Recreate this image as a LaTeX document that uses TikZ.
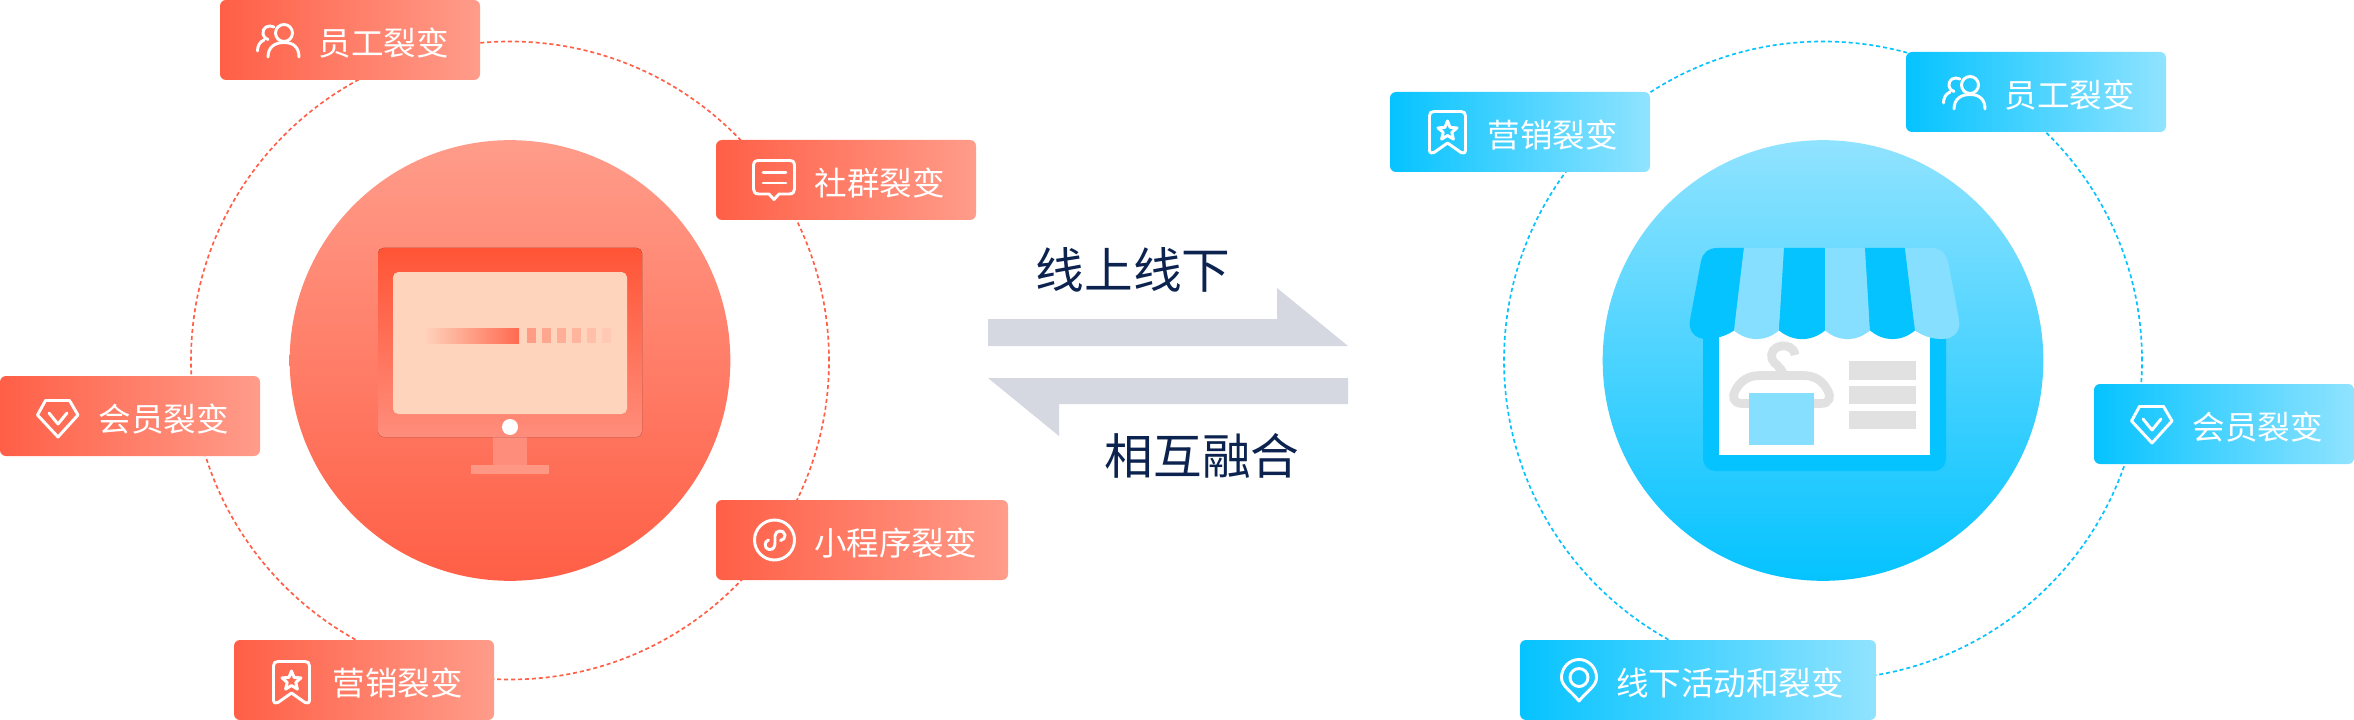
\documentclass[tikz,border=0pt]{standalone}
\usepackage{fontspec}
\setmainfont{Noto Sans CJK SC}
\newfontfamily\headfont{Noto Sans CJK SC}
\definecolor{redA}{HTML}{FF5F46}
\definecolor{redB}{HTML}{FF9C8A}
\definecolor{bluA}{HTML}{05C3FF}
\definecolor{bluB}{HTML}{90E3FF}
\definecolor{bluL}{HTML}{87DFFF}
\definecolor{arrowgray}{HTML}{D5D8E0}
\definecolor{navy}{HTML}{0C2350}
\definecolor{hang}{HTML}{E1E1E1}
\definecolor{screenc}{HTML}{FFD4BD}
\definecolor{monA}{HTML}{FF5435}
\definecolor{monB}{HTML}{FF8D7B}
\definecolor{neckc}{HTML}{FF8D7B}
\definecolor{basec}{HTML}{FF9785}
\definecolor{barR}{HTML}{FF6A50}
\definecolor{sqA}{HTML}{FF9C85}
\definecolor{sqB}{HTML}{FFA68F}
\definecolor{sqC}{HTML}{FFAE98}
\definecolor{sqD}{HTML}{FFB49E}
\definecolor{sqE}{HTML}{FFBFA9}
\definecolor{sqF}{HTML}{FFC9B3}
\tikzset{
  x=0.75pt,y=-0.75pt,
  lblbox/.style={rectangle,inner sep=0pt,outer sep=0pt,rounded corners=4.5pt,minimum height=60pt},
  redbox/.style={lblbox,left color=redA,right color=redB},
  blubox/.style={lblbox,left color=bluA,right color=bluB},
  lbltext/.style={anchor=east,text=white,font=\fontsize{24.4pt}{24.4pt}\selectfont,inner sep=0pt},
  headtext/.style={text=navy,font=\headfont\fontsize{36.5pt}{36.5pt}\selectfont,inner sep=0pt},
  orbit/.style={circle,minimum size=478.5pt,inner sep=0pt,line width=1.25pt,dash pattern=on 3pt off 2.2pt},
  disc/.style={circle,minimum size=330.5pt,inner sep=0pt},
  ico/.style={draw=white,line width=2.2pt,line join=round,line cap=round},
  peopleicon/.pic={
    \draw[ico] (28,9) circle [radius=8.5];
    \draw[ico] (12,33) .. controls (12,23) and (19,18.5) .. (28,18.5) .. controls (37,18.5) and (43,23) .. (43,33);
    \draw[ico] (18,3) .. controls (12,0) and (6,4) .. (7,10) .. controls (7.5,13) and (9,14.5) .. (12,15.5);
    \draw[ico] (1.5,27) .. controls (1.5,22) and (3.5,18) .. (8,16);
  },
  commenticon/.pic={
    \draw[ico] (17,35) -- (7,35) .. controls (3,35) and (1.5,33) .. (1.5,30) -- (1.5,7) .. controls (1.5,3) and (3,1.5) .. (7,1.5) -- (37,1.5) .. controls (41,1.5) and (42.5,3) .. (42.5,7) -- (42.5,30) .. controls (42.5,33) and (41,35) .. (37,35) -- (27,35) -- (22,40.5) -- cycle;
    \draw[ico] (11,13.5) -- (34,13.5) (11,24) -- (34,24);
  },
  gemicon/.pic={
    \draw[ico] (9.5,1.5) -- (33.5,1.5) -- (42,16) -- (22,38) -- (1.5,16) -- cycle;
    \draw[ico] (13,14) -- (22,25) -- (31,14);
  },
  miniicon/.pic={
    \draw[ico] (21.5,22) circle [radius=20];
    \draw[ico] (15.5,22) .. controls (11,23) and (11,31) .. (16,31.5) .. controls (21,32) and (22,28) .. (22,24) -- (22,18) .. controls (22,12) and (31,11) .. (32,17) .. controls (32.5,20) and (30,22) .. (27.5,22.5);
  },
  bookicon/.pic={
    \draw[ico] (1.5,40) -- (1.5,6) .. controls (1.5,3) and (3,1.5) .. (6,1.5) -- (33,1.5) .. controls (36,1.5) and (37.5,3) .. (37.5,6) -- (37.5,40) .. controls (37.5,43) and (35,44) .. (33,42.5) -- (19.5,33) -- (6,42.5) .. controls (4,44) and (1.5,43) .. (1.5,40) -- cycle;
    \draw[ico] (19.5,11) -- (22.1,17.4) -- (29,17.9) -- (23.8,22.4) -- (25.4,29.1) -- (19.5,25.5) -- (13.6,29.1) -- (15.2,22.4) -- (10,17.9) -- (16.9,17.4) -- cycle;
  },
  pinicon/.pic={
    \draw[ico] (19,43) .. controls (10,32) and (1.5,28) .. (1.5,19.5) .. controls (1.5,9.5) and (9.5,1.5) .. (19,1.5) .. controls (28.5,1.5) and (36.5,9.5) .. (36.5,19.5) .. controls (36.5,28) and (28,32) .. (19,43) -- cycle;
    \draw[ico] (19,19.5) circle [radius=9];
  },
}
\begin{document}
\begin{tikzpicture}
\useasboundingbox (0,0) rectangle (2354,720);
\fill[white] (0,0) rectangle (2354,720);

% orbits
\node[orbit,draw=redA] (orbitL) at (510,360.5) {};
\node[orbit,draw=bluA] (orbitR) at (1823,360.5) {};

% discs
\node[disc,top color=redB,bottom color=redA] (discL) at (510,360.5) {};
\node[disc,top color=bluB,bottom color=bluA] (discR) at (1823,360.5) {};

% monitor
\fill[neckc] (493,437) rectangle (527,465);
\fill[basec] (471,465) rectangle (549,474);
\fill[top color=monA,bottom color=monB,rounded corners=4pt] (378,248) rectangle (642,437);
\fill[screenc,rounded corners=4pt] (393,272) rectangle (627,414);
\fill[left color=screenc,right color=barR] (423,328) rectangle (519,343);
\fill[sqA] (527,328) rectangle (536,343);
\fill[sqB] (542,328) rectangle (551,343);
\fill[sqC] (557,328) rectangle (566,343);
\fill[sqD] (572,328) rectangle (581,343);
\fill[sqE] (587,328) rectangle (596,343);
\fill[sqF] (602,328) rectangle (611,343);
\fill[white] (510,427) circle [radius=8];

% store
\fill[bluA,rounded corners=9pt] (1703,320) rectangle (1946,471);
\fill[white] (1719,330) rectangle (1930,455);
\draw[hang,line width=6.5pt] (1795,355) .. controls (1794,347) and (1786,345) .. (1781,346) .. controls (1774,347) and (1770,353) .. (1772,359) .. controls (1774,364) and (1781,367) .. (1783,373);
\draw[hang,line width=6.5pt] (1750,403.5) -- (1742,403.5) .. controls (1733,403.5) and (1732,396) .. (1735,391) .. controls (1740,381) and (1748,375.5) .. (1760,375.5) -- (1803,375.5) .. controls (1815,375.5) and (1823,381) .. (1828,391) .. controls (1831,396) and (1830,403.5) .. (1821,403.5) -- (1810,403.5);
\fill[bluL] (1749,393) rectangle (1814,445);
\fill[hang] (1849,361) rectangle (1916,380);
\fill[hang] (1849,386) rectangle (1916,404);
\fill[hang] (1849,411) rectangle (1916,429);
% awning
\fill[bluA] (1744,248) -- (1717,248) .. controls (1708,248) and (1702,254) .. (1701,261) -- (1690,320) .. controls (1688,331) and (1695,339) .. (1706,339) .. controls (1716,339) and (1726,336) .. (1734,330.5) -- cycle;
\fill[bluL] (1744,248) -- (1784,248) -- (1779,330.5) .. controls (1765,342) and (1748,342) .. (1734,330.5) -- cycle;
\fill[bluA] (1784,248) -- (1825,248) -- (1825,330.5) .. controls (1811,342) and (1793,342) .. (1779,330.5) -- cycle;
\fill[bluL] (1825,248) -- (1865,248) -- (1870,330.5) .. controls (1856,342) and (1839,342) .. (1825,330.5) -- cycle;
\fill[bluA] (1865,248) -- (1905,248) -- (1915,330.5) .. controls (1901,342) and (1884,342) .. (1870,330.5) -- cycle;
\fill[bluL] (1905,248) -- (1932,248) .. controls (1941,248) and (1946,254) .. (1948,261) -- (1959,320) .. controls (1961,331) and (1954,339) .. (1942,339) .. controls (1932,339) and (1923,336) .. (1915,330.5) -- cycle;

% arrows
\fill[arrowgray] (988,319) -- (1277,319) -- (1277,288) -- (1348,346) -- (988,346) -- cycle;
\fill[arrowgray] (988,378) -- (1348,378) -- (1348,404) -- (1059,404) -- (1059,436) -- cycle;
\node[headtext] (t1) at (1133,270) {线上线下};
\node[headtext] (t2) at (1202,456) {相互融合};

% left labels
\node[redbox,minimum width=195pt] (a1) at (350,40) {};
\node[lbltext] (a1t) at (449,43) {员工裂变};
\pic at (256,24) {peopleicon};
\node[redbox,minimum width=195pt] (a2) at (846,180) {};
\node[lbltext] (a2t) at (945,183) {社群裂变};
\pic at (752,159) {commenticon};
\node[redbox,minimum width=195pt] (a3) at (130,416) {};
\node[lbltext] (a3t) at (229,419) {会员裂变};
\pic at (36,399) {gemicon};
\node[redbox,minimum width=219pt] (a4) at (862,540) {};
\node[lbltext] (a4t) at (977,543) {小程序裂变};
\pic at (753,518) {miniicon};
\node[redbox,minimum width=195pt] (a5) at (364,680) {};
\node[lbltext] (a5t) at (463,683) {营销裂变};
\pic at (272,660) {bookicon};

% right labels
\node[blubox,minimum width=195pt] (b1) at (1520,132) {};
\node[lbltext] (b1t) at (1618,135) {营销裂变};
\pic at (1428,110) {bookicon};
\node[blubox,minimum width=195pt] (b2) at (2036,92) {};
\node[lbltext] (b2t) at (2135,95) {员工裂变};
\pic at (1942,76) {peopleicon};
\node[blubox,minimum width=195pt] (b3) at (2224,424) {};
\node[lbltext] (b3t) at (2323,427) {会员裂变};
\pic at (2130,405) {gemicon};
\node[blubox,minimum width=267pt] (b4) at (1698,680) {};
\node[lbltext] (b4t) at (1844,683) {线下活动和裂变};
\pic at (1560,658) {pinicon};
\end{tikzpicture}
\end{document}
